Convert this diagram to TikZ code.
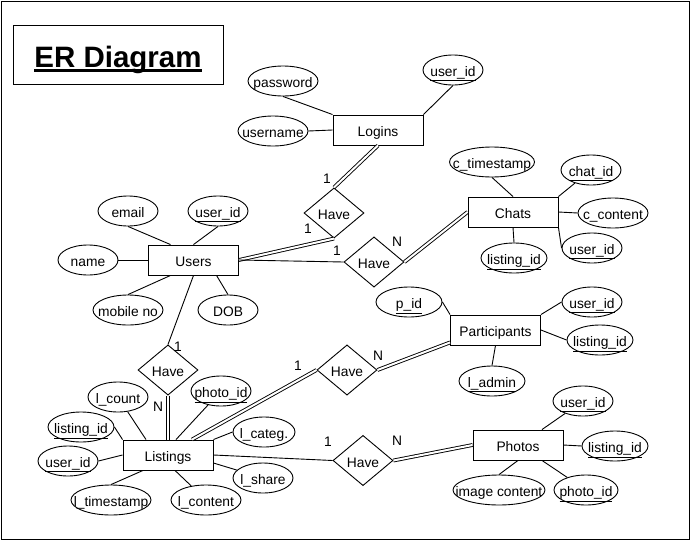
\documentclass[tikz,border=0pt]{standalone}
\usepackage{fontspec}
\setmainfont{Liberation Sans}
\usetikzlibrary{shapes.geometric,positioning}
\tikzset
{
    entity/.style      = {rectangle, draw=black, line width=0.9pt, minimum width=90pt, minimum height=30pt, inner sep=0pt, text height=15.5pt, text depth=2.5pt},
    attribute/.style   = {ellipse, draw=black, line width=0.9pt, minimum width=#1, minimum height=30pt, inner sep=0pt, text height=15.5pt, text depth=2.5pt,
                          execute at begin node=\hbox to 0pt\bgroup\hss, execute at end node=\hss\egroup},
    attribute/.default = 60pt,
    relation/.style    = {diamond, draw=black, line width=0.9pt, minimum width=60pt, minimum height=50pt, inner sep=0pt, text height=15.5pt, text depth=2.5pt},
    cardinality/.style = {inner sep=0pt},
    link/.style        = {line width=0.9pt},
    total/.style       = {line width=0.9pt, double, double distance=2pt},
}
\newcommand\pk[1]{\underline{#1}}
\newcommand\titleul[1]{\setbox0\hbox{#1}\rlap{\rule[-5pt]{\wd0}{2.8pt}}\box0}

\begin{document}
\begin{tikzpicture}[x=1pt, y=-1pt, font=\fontsize{13.8}{16}\selectfont]
   \useasboundingbox (0, 0) rectangle (691, 541);
   \draw[line width=0.9pt] (1, 1) rectangle (689, 539);

   \node (title) [rectangle, draw=black, line width=0.9pt, minimum width=210pt, minimum height=59pt, inner sep=0pt,
                  text height=30pt, text depth=4.6pt,
                  font=\fontsize{29.5}{34}\selectfont\bfseries]    at (118, 54.5)   {\titleul{ER Diagram}};

   \node (logins)       [entity]                 at (378, 130)    {Logins};
   \node (users)        [entity]                 at (193.5, 260)  {Users};
   \node (chats)        [entity]                 at (513, 212)    {Chats};
   \node (participants) [entity]                 at (495.5, 330)  {Participants};
   \node (listings)     [entity]                 at (168, 455)    {Listings};
   \node (photos)       [entity]                 at (518, 445)    {Photos};

   \node (hlogins)      [relation]               at (334, 213)    {Have};
   \node (hchats)       [relation]               at (374, 262)    {Have};
   \node (hlistings)    [relation]               at (168, 370)    {Have};
   \node (hpart)        [relation]               at (347, 370)    {Have};
   \node (hphotos)      [relation]               at (363, 460.5)  {Have};

   % logins
   \node (password)     [attribute=70pt]         at (283, 81)     {password};
   \node (username)     [attribute=70pt]         at (273, 131)    {username};
   \node (uidlogins)    [attribute]              at (453, 70)     {\pk{user\_id}};
   % users
   \node (email)        [attribute]              at (128, 211)    {email};
   \node (uidusers)     [attribute]              at (218, 211)    {\pk{user\_id}};
   \node (name)         [attribute]              at (88, 260)     {name};
   \node (mobile)       [attribute=70pt]         at (128, 310)    {mobile no};
   \node (dob)          [attribute]              at (228, 310)    {DOB};
   % chats
   \node (ctimestamp)   [attribute=85pt]         at (492, 162)    {c\_timestamp};
   \node (chatid)       [attribute]              at (591, 170)    {\pk{chat\_id}};
   \node (ccontent)     [attribute=70pt]         at (613, 213)    {c\_content};
   \node (uidchats)     [attribute]              at (592, 248)    {\pk{user\_id}};
   \node (lidchats)     [attribute=66pt]         at (514, 258)    {\pk{listing\_id}};
   % participants
   \node (pid)          [attribute=66pt]         at (409, 302)    {\pk{p\_id}};
   \node (uidpart)      [attribute]              at (592, 302)    {\pk{user\_id}};
   \node (lidpart)      [attribute=66pt]         at (600, 340)    {\pk{listing\_id}};
   \node (ladmin)       [attribute=66pt]         at (492, 381)    {\pk{l\_admin}};
   % listings
   \node (lcount)       [attribute]              at (118, 397)    {l\_count};
   \node (pidlistings)  [attribute]              at (221, 391)    {\pk{photo\_id}};
   \node (lidlistings)  [attribute=66pt]         at (81, 427)     {\pk{listing\_id}};
   \node (lcateg)       [attribute=62pt]         at (264, 432)    {l\_categ.};
   \node (uidlistings)  [attribute]              at (68, 461)     {\pk{user\_id}};
   \node (lshare)       [attribute]              at (263, 478)    {l\_share};
   \node (ltimestamp)   [attribute=80pt]         at (111, 500)    {l\_timestamp};
   \node (lcontent)     [attribute=70pt]         at (206, 500)    {l\_content};
   % photos
   \node (uidphotos)    [attribute]              at (583, 401)    {\pk{user\_id}};
   \node (lidphotos)    [attribute=66pt]         at (615, 446)    {\pk{listing\_id}};
   \node (imgcontent)   [attribute=92pt]         at (499, 490)    {image content};
   \node (pidphotos)    [attribute=64pt]         at (586, 490)    {\pk{photo\_id}};

   \node (c1)  [cardinality] at (327, 179) {1};
   \node (c2)  [cardinality] at (308, 229) {1};
   \node (c3)  [cardinality] at (337, 251) {1};
   \node (c4)  [cardinality] at (397, 242) {N};
   \node (c5)  [cardinality] at (178, 347) {1};
   \node (c6)  [cardinality] at (158, 407) {N};
   \node (c7)  [cardinality] at (298, 366) {1};
   \node (c8)  [cardinality] at (378, 356) {N};
   \node (c9)  [cardinality] at (328, 442) {1};
   \node (c10) [cardinality] at (397, 441) {N};

   \path[link]
      (password.south)        edge                (logins.north west)
      (username.east)         edge                (logins.west)
      (uidlogins.south)       edge                (logins.north east)
      (logins.south)          edge[total]         (hlogins.north)
      (hlogins.south)         edge[total]         (users.east)
      (users.east)            edge                (hchats.west)
      (hchats.east)           edge[total]         (chats.west)
      (email.south)           edge                ([xshift=-23pt]users.north)
      (uidusers.south)        edge                (users.north)
      (name.east)             edge                (users.west)
      (mobile.north)          edge                ([xshift=-23pt]users.south)
      (dob.north)             edge                ([xshift=23pt]users.south)
      (users.south)           edge                (hlistings.north)
      (hlistings.south)       edge[total]         (listings.north)
      (ctimestamp.south)      edge                (chats.north)
      (chatid)                edge                (chats.north east)
      (ccontent.west)         edge                (chats.east)
      (uidchats.west)         edge                (chats.south east)
      (lidchats.north)        edge                (chats.south)
      ([xshift=24pt]listings.north) edge[total]   (hpart.west)
      (hpart.east)            edge[total]         ([yshift=3pt]participants.south west)
      (pid.east)              edge                (participants.north west)
      (uidpart.west)          edge                (participants.north east)
      (lidpart.west)          edge                (participants.east)
      (ladmin.north)          edge                (participants.south)
      (listings.east)         edge                (hphotos.west)
      (hphotos.east)          edge[total]         (photos.west)
      (lcount)                edge                ([xshift=-22pt]listings.north)
      (pidlistings)           edge                ([xshift=8pt]listings.north)
      (lidlistings.east)      edge                (listings.north west)
      (lcateg.west)           edge                (listings.north east)
      (uidlistings.east)      edge                (listings.west)
      (lshare)                edge                ([yshift=-8pt]listings.east)
      (ltimestamp.north)      edge                ([xshift=-25pt]listings.south)
      (lcontent)              edge                ([xshift=7pt]listings.south)
      (uidphotos)             edge                ([xshift=24pt]photos.north)
      (lidphotos.west)        edge                (photos.east)
      (imgcontent.north)      edge                (photos.south)
      (pidphotos)             edge                ([xshift=24pt]photos.south);
\end{tikzpicture}
\end{document}
